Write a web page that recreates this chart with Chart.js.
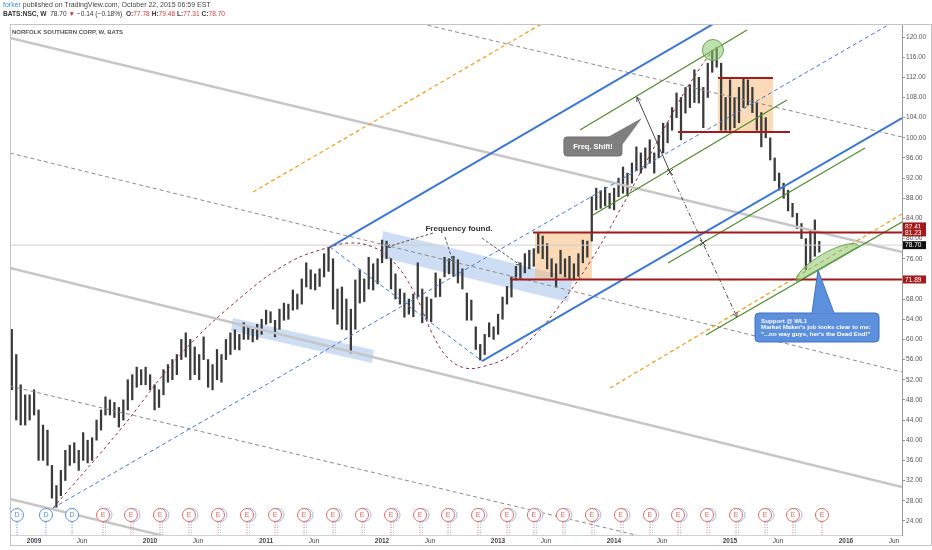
<!DOCTYPE html>
<html lang="en">
<head>
<meta charset="UTF-8">
<title>NSC, W - forker on TradingView</title>
<script src="https://cdn.jsdelivr.net/npm/chart.js@4.4.0/dist/chart.umd.min.js"></script>
<style>
  html, body { margin: 0; padding: 0; background: #fff; }
  #wrap { position: relative; width: 932px; height: 550px; font-family: "Liberation Sans", Arial, sans-serif; }
  #wrap canvas { position: absolute; left: 0; top: 0; }
  .head { position: absolute; left: 3px; white-space: nowrap; color: #444; z-index: 2; }
  #head1 { top: 1px; font-size: 7px; }
  #head2 { top: 10px; font-size: 6.6px; color: #333; }
  #head1 .user { color: #3a8ee6; }
  #head2 b { font-weight: bold; }
  #head2 .dn { color: #d32f2f; }
  #head2 .v { color: #d23b3b; }
</style>
</head>
<body>
<div id="wrap">
  <div class="head" id="head1"><span class="user">forker</span> published on TradingView.com, October 22, 2015 06:59 EST</div>
  <div class="head" id="head2"><b>BATS:NSC, W</b>&nbsp; 78.70 <span class="dn">&#9660;</span> &minus;0.14 (&minus;0.18%) &nbsp;<b>O:</b><span class="v">77.78</span> <b>H:</b><span class="v">79.46</span> <b>L:</b><span class="v">77.31</span> <b>C:</b><span class="v">78.70</span></div>
  <canvas id="nscChart" width="932" height="550"></canvas>
</div>
<script>
// weekly NSC bars, sampled every second week (first bar Oct 2008)
const firstBarYear = 2008.77;
const barStep = 1 / 26;
const barHigh = [
  58, 62, 57, 51, 49, 49, 50, 46, 43, 42, 35, 31, 34, 38, 39, 39.5, 38, 41.5, 40, 40.5,
  44, 46, 48.6, 48, 47.5, 46.5, 48, 52, 53, 54.5, 54, 54.5, 53, 51, 50, 54, 55, 56, 57, 60,
  61.3, 60, 58.5, 57, 60.5, 56, 55, 58, 57, 60, 61.3, 61.9, 61, 63.3, 62.5, 62, 63, 64, 65.8, 65.5,
  63.8, 66, 67.2, 67, 69.8, 69, 72, 75.2, 73.8, 73, 74, 77, 78.3, 76, 70, 70.4, 68, 66, 71.8, 73.8,
  72, 76.3, 75, 76, 79.7, 79.5, 76, 73, 70, 69.2, 68, 69, 75.2, 70, 68.4, 68, 73.2, 72, 76.3, 76,
  76.5, 75.8, 74, 69.2, 67.8, 62.5, 59, 61, 63.3, 62.5, 65, 68.4, 70.5, 72.4, 74.5, 75.2, 77, 77.7, 78, 81,
  80.5, 79, 76, 75, 77.7, 76, 76.5, 75, 77, 79.7, 79.5, 88.3, 90, 89.5, 90.2, 89, 90, 92, 94.2, 93,
  95, 98.2, 97, 98, 99.6, 97, 100.5, 102.9, 103, 106, 108.9, 108, 110, 110.5, 113.5, 112, 110, 114.8, 117.4, 117.9,
  114.8, 108, 111.5, 108, 110, 111.9, 111.5, 110, 107, 105, 104, 100, 96, 93, 91, 89.6, 87, 85, 83, 80,
  81.7, 83.7, 79.46
];
const barLow = [
  46, 50, 44, 43, 43, 44, 45, 36, 36, 35, 28.5, 26.7, 29, 32, 35, 35.5, 34, 36, 35.5, 36,
  40, 42, 45, 45, 44.5, 42.6, 44, 46, 48, 50.5, 51, 51, 50, 46, 46.5, 49, 51.5, 52, 53, 56,
  56.5, 52, 53, 52, 56, 50.5, 50, 52, 51.5, 56, 57, 58, 57.9, 60, 60, 59.5, 60, 61, 63, 63.3,
  60.5, 62, 63.8, 64, 65.8, 66, 67, 70.4, 70, 69.8, 70.5, 72.4, 73.5, 66, 63, 62, 61.9, 57.3, 62, 67.2,
  67.5, 70, 69.8, 71, 75.2, 76, 70, 68, 67, 64.4, 65, 64.5, 68.4, 63.3, 64, 63.5, 68.4, 68.5, 72.4, 73,
  72.5, 71.2, 70, 63.8, 63.8, 58, 55.9, 57, 60.5, 60, 61, 64, 67, 68.4, 71.8, 72, 73.2, 74, 74.5, 77.1,
  76, 74, 72.4, 70.4, 73, 72.4, 72, 71.8, 72.5, 75.2, 76.3, 79.5, 85.7, 86, 86.5, 86, 85.7, 88.3, 89, 88.5,
  91, 93.5, 93, 94, 95, 93, 96, 97, 99, 101.5, 104, 99.6, 104.9, 106, 107, 106.9, 102, 108, 113, 114,
  101.5, 101.5, 101.5, 102, 103, 106, 106.5, 105, 101.5, 98.2, 100, 95.6, 91.5, 89.6, 88, 85.5, 84.3, 82, 80, 73.8,
  75.2, 76.5, 77.31
];

// axes
const xMin = 2008.793, xMax = 2016.483;
const yMin = 21.19, yMax = 122.58;
const xTickValues = [2009, 2009.414, 2010, 2010.414, 2011, 2011.414, 2012, 2012.414, 2013, 2013.414,
  2014, 2014.414, 2015, 2015.414, 2016, 2016.414];
const xTickLabels = ['2009', 'Jun', '2010', 'Jun', '2011', 'Jun', '2012', 'Jun', '2013', 'Jun',
  '2014', 'Jun', '2015', 'Jun', '2016', 'Jun'];
const yTickValues = [24, 28, 32, 36, 40, 44, 48, 52, 56, 60, 64, 68, 72, 76, 80, 84, 88, 92, 96, 100,
  104, 108, 112, 116, 120];
const priceTagValues = [82.41, 81.23, 78.70, 71.89];
const lastPrice = 78.70;

// drawings, as [year, price]
const grayChannel = [
  [[2008.793, 119.80], [2016.483, 77.34]],
  [[2008.793, 74.17], [2016.483, 30.71]],
  [[2008.793, 28.33], [2010.948, 16.43]]
];
const grayDashed = [
  [[2008.793, 96.98], [2016.483, 53.53]],
  [[2011.983, 124.56], [2016.483, 100.16]],
  [[2008.793, 50.75], [2014.224, 20.99]]
];
const orangeDashed = [
  [[2010.888, 89.25], [2013.448, 123.57]],
  [[2013.966, 50.36], [2016.483, 84.88]]
];
const blueSolid = [
  [[2011.552, 78.33], [2014.914, 123.37]],
  [[2012.862, 55.71], [2016.483, 103.93]]
];
const blueDashed = [
  [[2009.164, 26.55], [2016.483, 123.97]],
  [[2011.552, 78.33], [2012.862, 55.71]]
];
const greenSolid = [
  [[2013.707, 101.55], [2015.147, 121.39]],
  [[2013.819, 84.68], [2015.491, 107.50]],
  [[2014.466, 75.16], [2016.164, 97.98]],
  [[2014.793, 60.87], [2016.483, 83.29]]
];
const redLevels = [
  [[2013.302, 81.23], [2016.483, 81.23]],
  [[2013.103, 71.89], [2016.483, 71.89]],
  [[2014.897, 111.87], [2015.371, 111.87]],
  [[2014.552, 101.15], [2015.517, 101.15]]
];
const cycleCurve = [
  [2009.164, 26.55], [2009.741, 42.02], [2010.259, 56.90], [2010.776, 68.21], [2011.207, 75.36],
  [2011.552, 78.33], [2011.724, 79.13], [2011.897, 78.53], [2012.069, 76.15], [2012.267, 69.80],
  [2012.440, 60.87], [2012.569, 56.31], [2012.716, 54.33], [2012.888, 54.72], [2013.103, 56.71],
  [2013.319, 60.87], [2013.534, 66.83], [2013.793, 75.36], [2014.052, 85.67], [2014.310, 96.59],
  [2014.569, 107.50], [2014.741, 113.85], [2014.853, 117.42]
];
const orangeBoxes = [
  [2013.319, 2013.810, 71.89, 81.23],
  [2014.897, 2015.371, 101.15, 111.87]
];
const blueBands = [
  [[2010.716, 64.25], [2011.931, 57.90], [2011.914, 55.32], [2010.698, 61.67]],
  [[2012.009, 81.51], [2013.647, 72.18], [2013.603, 67.42], [2011.983, 76.35]]
];
const freqArrows = [
  [[2012.440, 81.11], [2012.043, 78.33]],
  [[2012.543, 80.32], [2012.612, 75.36]],
  [[2012.862, 80.12], [2013.190, 74.76]]
];
const shiftArrow = [[2014.198, 108.10], [2014.483, 93.21], [2014.767, 79.13], [2015.060, 64.44]];
const topCircle = [2014.853, 117.42];
const supportDome = [2015.845, 75.0];
const freqFoundAt = [2012.664, 81.9];
const freqShiftTip = [2014.241, 103.93];
const supportTip = [2015.759, 73.77];
const supportLines = ['Support @ WL1', "Market Maker's job looks clear to me:", '"...no way guys, her\'s the Dead End!"'];
const dividendDates = [2008.853, 2009.103, 2009.328];
const earningsDates = [2009.595, 2009.836, 2010.086, 2010.336, 2010.586, 2010.836, 2011.078, 2011.328,
  2011.578, 2011.828, 2012.078, 2012.328, 2012.569, 2012.828, 2013.078, 2013.310, 2013.560, 2013.810,
  2014.060, 2014.310, 2014.552, 2014.802, 2015.052, 2015.302, 2015.543, 2015.793];

const FONT = '"Liberation Sans", Arial, sans-serif';

function lineSet(points, color, width, dash) {
  return {
    type: 'line',
    data: points.map(p => ({x: p[0], y: p[1]})),
    borderColor: color,
    borderWidth: width,
    borderDash: dash || [],
    pointRadius: 0,
    fill: false,
    tension: 0
  };
}

const datasets = [];
redLevels.forEach(s => datasets.push(lineSet(s, '#a11b1b', 2)));
greenSolid.forEach(s => datasets.push(lineSet(s, '#4e8c2c', 1.2)));
blueSolid.forEach(s => datasets.push(lineSet(s, '#3b78d6', 2)));
blueDashed.forEach(s => datasets.push(lineSet(s, '#3b78d6', 1, [4, 3])));
orangeDashed.forEach(s => datasets.push(lineSet(s, '#f3a224', 1.3, [4, 3])));
const curve = lineSet(cycleCurve, '#8e2a3a', 1, [3, 3]);
curve.tension = 0.4;
datasets.push(curve);
grayDashed.forEach(s => datasets.push(lineSet(s, '#8a8a8a', 1, [4, 3])));
datasets.push(lineSet([[xMin, lastPrice], [xMax, lastPrice]], '#cfcfcf', 1));
grayChannel.forEach(s => datasets.push(lineSet(s, '#c6c6c6', 2.5)));
datasets.push({
  type: 'bar',
  data: barHigh.map((h, i) => ({x: firstBarYear + i * barStep, y: [barLow[i], h]})),
  barThickness: 1.6,
  backgroundColor: '#3a3a3a',
  borderWidth: 0
});

function toPx(chart, p) {
  return [chart.scales.x.getPixelForValue(p[0]), chart.scales.y.getPixelForValue(p[1])];
}

function arrowHead(ctx, x0, y0, x1, y1, size) {
  const a = Math.atan2(y1 - y0, x1 - x0);
  ctx.beginPath();
  ctx.moveTo(x1 - size * Math.cos(a - 0.45), y1 - size * Math.sin(a - 0.45));
  ctx.lineTo(x1, y1);
  ctx.lineTo(x1 - size * Math.cos(a + 0.45), y1 - size * Math.sin(a + 0.45));
  ctx.stroke();
}

function roundRect(ctx, x, y, w, h, r) {
  ctx.beginPath();
  ctx.moveTo(x + r, y);
  ctx.arcTo(x + w, y, x + w, y + h, r);
  ctx.arcTo(x + w, y + h, x, y + h, r);
  ctx.arcTo(x, y + h, x, y, r);
  ctx.arcTo(x, y, x + w, y, r);
  ctx.closePath();
}

const overlay = {
  id: 'overlay',
  beforeDatasetsDraw(chart) {
    const {ctx, chartArea: a, scales: {x, y}} = chart;
    ctx.save();
    ctx.beginPath();
    ctx.rect(a.left, a.top, a.right - a.left, a.bottom - a.top);
    ctx.clip();
    ctx.fillStyle = 'rgba(122,166,226,0.38)';
    blueBands.forEach(b => {
      ctx.beginPath();
      b.forEach((p, i) => {
        const q = toPx(chart, p);
        if (i) ctx.lineTo(q[0], q[1]); else ctx.moveTo(q[0], q[1]);
      });
      ctx.closePath();
      ctx.fill();
    });
    ctx.fillStyle = 'rgba(247,184,112,0.5)';
    orangeBoxes.forEach(([x0, x1, y0, y1]) => {
      const l = x.getPixelForValue(x0), r = x.getPixelForValue(x1);
      const t = y.getPixelForValue(y1), b = y.getPixelForValue(y0);
      ctx.fillRect(l, t, r - l, b - t);
    });
    ctx.restore();
  },
  afterDatasetsDraw(chart) {
    const {ctx, chartArea: a, scales: {x}} = chart;
    ctx.save();
    ctx.beginPath();
    ctx.rect(a.left, a.top, a.right - a.left, a.bottom - a.top);
    ctx.clip();

    // title
    ctx.fillStyle = '#555';
    ctx.font = 'bold 6px ' + FONT;
    ctx.textBaseline = 'middle';
    ctx.fillText('NORFOLK SOUTHERN CORP, W, BATS', a.left + 2, a.top + 8);

    // green highlights
    ctx.fillStyle = 'rgba(138,198,112,0.55)';
    ctx.strokeStyle = '#6aa64f';
    ctx.lineWidth = 1;
    let c = toPx(chart, topCircle);
    ctx.beginPath();
    ctx.ellipse(c[0], c[1], 10.5, 10.5, 0, 0, Math.PI * 2);
    ctx.fill(); ctx.stroke();
    c = toPx(chart, supportDome);
    ctx.beginPath();
    ctx.ellipse(c[0], c[1], 36, 11, -0.52, Math.PI, Math.PI * 2);
    ctx.closePath();
    ctx.fill(); ctx.stroke();

    // "Frequency found." pointers
    ctx.strokeStyle = '#555';
    ctx.lineWidth = 1;
    freqArrows.forEach(s => {
      const p0 = toPx(chart, s[0]), p1 = toPx(chart, s[1]);
      ctx.setLineDash([3, 2]);
      ctx.beginPath(); ctx.moveTo(p0[0], p0[1]); ctx.lineTo(p1[0], p1[1]); ctx.stroke();
      ctx.setLineDash([]);
      arrowHead(ctx, p0[0], p0[1], p1[0], p1[1], 4);
    });
    ctx.fillStyle = '#333';
    ctx.font = 'bold 8px ' + FONT;
    ctx.textAlign = 'center';
    c = toPx(chart, freqFoundAt);
    ctx.fillText('Frequency found.', c[0], c[1]);
    ctx.textAlign = 'left';

    // frequency shift arrow
    const sp = shiftArrow.map(p => toPx(chart, p));
    ctx.strokeStyle = '#4a4a4a';
    ctx.beginPath(); ctx.moveTo(sp[0][0], sp[0][1]); ctx.lineTo(sp[1][0], sp[1][1]); ctx.stroke();
    ctx.setLineDash([4, 2, 1, 2]);
    ctx.beginPath(); ctx.moveTo(sp[1][0], sp[1][1]); ctx.lineTo(sp[3][0], sp[3][1]); ctx.stroke();
    ctx.setLineDash([]);
    arrowHead(ctx, sp[1][0], sp[1][1], sp[0][0], sp[0][1], 5);
    arrowHead(ctx, sp[1][0], sp[1][1], sp[3][0], sp[3][1], 5);
    [sp[1], sp[2]].forEach(q => {
      ctx.beginPath();
      ctx.moveTo(q[0] - 3, q[1] - 3); ctx.lineTo(q[0] + 3, q[1] + 3);
      ctx.moveTo(q[0] + 3, q[1] - 3); ctx.lineTo(q[0] - 3, q[1] + 3);
      ctx.stroke();
    });

    // "Freq. Shift!" callout
    c = toPx(chart, freqShiftTip);
    ctx.fillStyle = '#7f7f7f';
    ctx.strokeStyle = '#6d6d6d';
    roundRect(ctx, c[0] - 78, c[1] + 19, 58, 19, 3);
    ctx.fill(); ctx.stroke();
    ctx.beginPath();
    ctx.moveTo(c[0] - 35, c[1] + 19.5);
    ctx.lineTo(c[0], c[1]);
    ctx.lineTo(c[0] - 20.5, c[1] + 28);
    ctx.closePath();
    ctx.fill();
    ctx.fillStyle = '#fff';
    ctx.font = 'bold 7.5px ' + FONT;
    ctx.textAlign = 'center';
    ctx.fillText('Freq. Shift!', c[0] - 49, c[1] + 29);
    ctx.textAlign = 'left';

    // support callout
    c = toPx(chart, supportTip);
    ctx.fillStyle = '#5c90dc';
    ctx.strokeStyle = '#3f71c4';
    roundRect(ctx, c[0] - 63, c[1] + 43, 124, 29, 4);
    ctx.fill(); ctx.stroke();
    ctx.beginPath();
    ctx.moveTo(c[0] - 6, c[1] + 43.5);
    ctx.lineTo(c[0], c[1]);
    ctx.lineTo(c[0] + 16, c[1] + 43.5);
    ctx.closePath();
    ctx.fill();
    ctx.strokeStyle = '#3f71c4';
    ctx.beginPath();
    ctx.moveTo(c[0] - 6, c[1] + 43); ctx.lineTo(c[0], c[1]); ctx.lineTo(c[0] + 16, c[1] + 43);
    ctx.stroke();
    ctx.fillStyle = '#fff';
    ctx.font = 'bold 6.2px ' + FONT;
    supportLines.forEach((t, i) => ctx.fillText(t, c[0] - 57, c[1] + 51 + i * 6.5));

    // dividends / earnings
    const cy = a.bottom - 20;
    function marker(d, letter, color, twin) {
      const mx = x.getPixelForValue(d);
      ctx.strokeStyle = color;
      ctx.setLineDash([1, 1.5]);
      ctx.beginPath(); ctx.moveTo(mx, cy + 7); ctx.lineTo(mx, a.bottom); ctx.stroke();
      if (twin) {
        ctx.strokeStyle = '#9dbbe8';
        ctx.beginPath(); ctx.moveTo(mx + 2.5, cy + 7); ctx.lineTo(mx + 2.5, a.bottom); ctx.stroke();
      }
      ctx.setLineDash([]);
      if (twin) {
        ctx.fillStyle = '#fff';
        ctx.strokeStyle = '#9dbbe8';
        ctx.beginPath(); ctx.arc(mx + 2.5, cy, 6.5, 0, Math.PI * 2); ctx.fill(); ctx.stroke();
      }
      ctx.fillStyle = '#fff';
      ctx.strokeStyle = color;
      ctx.beginPath(); ctx.arc(mx, cy, 6.5, 0, Math.PI * 2); ctx.fill(); ctx.stroke();
      ctx.fillStyle = color;
      ctx.font = '7px ' + FONT;
      ctx.textAlign = 'center';
      ctx.fillText(letter, mx, cy + 0.5);
      ctx.textAlign = 'left';
    }
    dividendDates.forEach(d => marker(d, 'D', '#5b8fd9', false));
    earningsDates.forEach((d, i) => marker(d, 'E', '#e06a64', i < earningsDates.length - 1));
    ctx.restore();
  },
  afterDraw(chart) {
    const {ctx, chartArea: a, scales: {y}} = chart;
    ctx.save();
    ctx.font = '6.6px ' + FONT;
    ctx.textBaseline = 'middle';
    priceTagValues.forEach(v => {
      const py = y.getPixelForValue(v);
      ctx.fillStyle = v === lastPrice ? '#111' : '#a11b1b';
      ctx.fillRect(a.right + 1, py - 4, 23, 8);
      ctx.fillStyle = '#fff';
      ctx.fillText(v.toFixed(2), a.right + 3, py + 0.5);
    });
    ctx.strokeStyle = '#c4c4c4';
    ctx.lineWidth = 1;
    ctx.strokeRect(a.left + 0.5, a.top + 0.5, chart.width - a.left - 1, 545 - a.top);
    ctx.restore();
  }
};

new Chart(document.getElementById('nscChart'), {
  type: 'bar',
  data: {datasets: datasets},
  options: {
    responsive: false,
    animation: false,
    events: [],
    layout: {padding: {left: 10, top: 24, right: 0, bottom: 5}},
    plugins: {legend: {display: false}, tooltip: {enabled: false}},
    scales: {
      x: {
        type: 'linear',
        min: xMin,
        max: xMax,
        offset: false,
        grid: {display: false, drawTicks: false},
        border: {display: true, color: '#d0d0d0'},
        afterBuildTicks: axis => { axis.ticks = xTickValues.map(v => ({value: v})); },
        afterFit: axis => { axis.height = 10; },
        ticks: {
          autoSkip: false,
          maxRotation: 0,
          padding: 2,
          color: '#444',
          font: ctx => ({family: FONT, size: 6.5, weight: ctx.index % 2 === 0 ? 'bold' : 'normal'}),
          callback: (v, i) => xTickLabels[i]
        }
      },
      y: {
        type: 'linear',
        position: 'right',
        min: yMin,
        max: yMax,
        grid: {drawOnChartArea: false, tickLength: 3, color: '#999'},
        border: {display: true, color: '#9a9a9a'},
        afterBuildTicks: axis => { axis.ticks = yTickValues.map(v => ({value: v})); },
        afterFit: axis => { axis.width = 30; },
        ticks: {
          autoSkip: false,
          padding: 1,
          color: '#555',
          font: {family: FONT, size: 6.6},
          callback: v => v.toFixed(2)
        }
      }
    }
  },
  plugins: [overlay]
});
</script>
</body>
</html>
